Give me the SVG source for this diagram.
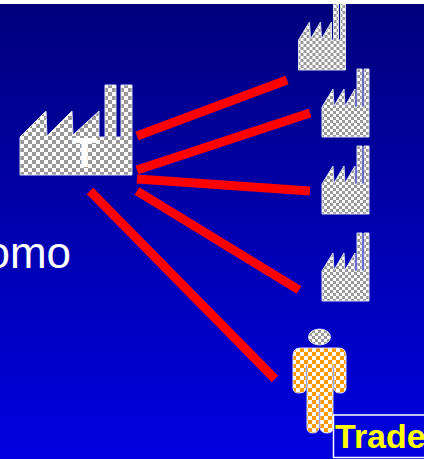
<svg xmlns="http://www.w3.org/2000/svg" xmlns:xlink="http://www.w3.org/1999/xlink" width="424" height="459" viewBox="0 0 424 459">
<defs>
<linearGradient id="bg" x1="0" y1="0" x2="0" y2="1"><stop offset="0" stop-color="#00007c"/><stop offset="1" stop-color="#0000e0"/></linearGradient>
<pattern id="chk" width="8" height="8" patternUnits="userSpaceOnUse"><rect width="8" height="8" fill="#fff"/><rect width="4" height="4" fill="#999"/><rect x="4" y="4" width="4" height="4" fill="#999"/></pattern>
<pattern id="chkS" width="6" height="6" patternUnits="userSpaceOnUse"><rect width="6" height="6" fill="#fff"/><rect width="3" height="3" fill="#999"/><rect x="3" y="3" width="3" height="3" fill="#999"/></pattern>
<pattern id="chkO" width="8" height="8" patternUnits="userSpaceOnUse"><rect width="8" height="8" fill="#fff"/><rect width="4" height="4" fill="#f90"/><rect x="4" y="4" width="4" height="4" fill="#f90"/></pattern>
<path id="small" d="M322 107L333 89L334 106L344 89L345 106L355 89L355 107L357 107L357 69L362 69L362 107L364 107L364 69L369 69L369 137L322 137Z" fill="url(#chkS)" stroke="#d8d8f0" stroke-width="1"/>
</defs>
<style>
.link{stroke:#f00;stroke-width:9;fill:none}
text{font-family:"Liberation Sans",Arial,sans-serif}
</style>
<rect width="424" height="459" fill="url(#bg)"/>
<text x="-14.5" y="268" font-size="44" fill="#fff">omo</text>
<g id="connectors">
<line class="link" x1="137" y1="136" x2="287" y2="80"/>
<line class="link" x1="137" y1="170" x2="310" y2="113"/>
<line class="link" x1="137" y1="179" x2="310" y2="191"/>
<line class="link" x1="137" y1="191" x2="299" y2="290"/>
<line class="link" x1="90" y1="191" x2="275" y2="379"/>
</g>
<g id="factory-main">
<path d="M20 137L46 111L47 136L72 111L73 135L99 111L99 137L105 137L105 85L116 85L116 137L121 137L121 85L132 85L132 175L20 175Z" fill="url(#chk)" stroke="#d8d8f0" stroke-width="1"/>
<text x="84.5" y="167" font-size="42" font-weight="bold" fill="#fff" text-anchor="middle">T</text>
</g>
<g id="factory-1"><use xlink:href="#small" href="#small" transform="translate(-23.5,-67)"/></g>
<g id="factory-2"><use xlink:href="#small" href="#small"/></g>
<g id="factory-3"><use xlink:href="#small" href="#small" transform="translate(0,77)"/></g>
<g id="factory-4"><use xlink:href="#small" href="#small" transform="translate(0,164)"/></g>
<g id="trader">
<ellipse cx="319.5" cy="337" rx="11" ry="8" fill="url(#chkS)" stroke="#d8d8f0"/>
<path d="M300 348H339Q346 348 346 356V388Q346 393 340 393Q334 393 334 388V365H333V428Q333 433 327 433Q321 433 320 428V394H319V428Q318 433 313 433Q307 433 307 428V365H306V388Q306 393 299 393Q293 393 293 388V356Q293 348 300 348Z" fill="url(#chkO)" stroke="#d8d8f0"/>
</g>
<g id="trader-label">
<rect x="333.5" y="415" width="95" height="42.5" fill="none" stroke="#fff" stroke-width="1.5"/>
<text x="335" y="448" font-size="34" font-weight="bold" fill="#ff0">Trade</text>
</g>
<rect id="top-band" width="424" height="4" fill="#fff"/>
</svg>
